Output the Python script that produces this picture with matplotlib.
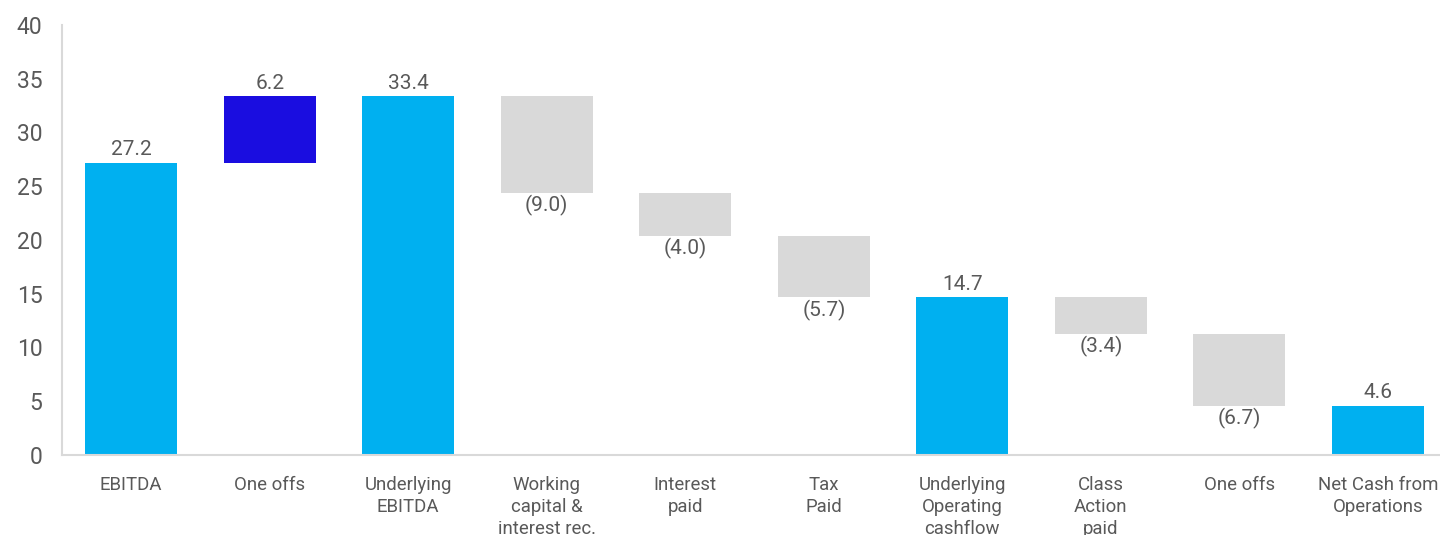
import matplotlib
matplotlib.use("Agg")
from matplotlib import pyplot as plt

plt.rcParams['font.family'] = ['Roboto', 'DejaVu Sans']

# waterfall data
categories = ["EBITDA", "One offs", "Underlying\nEBITDA", "Working\ncapital &\ninterest rec.",
              "Interest\npaid", "Tax\nPaid", "Underlying\nOperating\ncashflow", "Class\nAction\npaid",
              "One offs", "Net Cash from\nOperations"]
values = [27.2, 6.2, 33.4, -9.0, -4.0, -5.7, 14.7, -3.4, -6.7, 4.6]
kinds = ["total", "up", "total", "down", "down", "down", "total", "down", "down", "total"]

colors = {"total": "#00B0F0", "up": "#1A0DE0", "down": "#D9D9D9"}
text_col = "#595959"

fig = plt.figure(figsize=(14.4, 5.35), dpi=100)
ax = fig.add_axes([0.043, 0.1495, 0.962, 0.804])

running = 0.0
for i, (v, k) in enumerate(zip(values, kinds)):
    if k == "total":
        bottom = 0
        height = v
        running = v
    else:
        bottom = running if v > 0 else running + v
        height = abs(v)
        running = running + v
    ax.bar(i, height, bottom=bottom, width=0.665, color=colors[k], zorder=2)
    # labels: above for positive, below for negative
    if v >= 0:
        ax.text(i, bottom + height + 0.3, "%.1f" % v, ha="center", va="bottom",
                fontsize=15, color=text_col)
    else:
        ax.text(i, bottom - 0.25, "(%.1f)" % abs(v), ha="center", va="top",
                fontsize=15, color=text_col)

ax.set_ylim(0, 40)
ax.set_xlim(-0.5, 9.5)
ax.set_yticks(range(0, 41, 5))
ax.set_xticks(range(len(categories)))
ax.set_xticklabels(categories, fontsize=13.4, color=text_col, linespacing=1.3, va="top")
ax.tick_params(axis="y", labelsize=16.5, colors=text_col, length=0, pad=14)
ax.tick_params(axis="x", length=0, pad=15)

for s in ["top", "right"]:
    ax.spines[s].set_visible(False)
for s in ["left", "bottom"]:
    ax.spines[s].set_color("#D9D9D9")
    ax.spines[s].set_linewidth(1.5)

plt.savefig("out.png", dpi=100)
